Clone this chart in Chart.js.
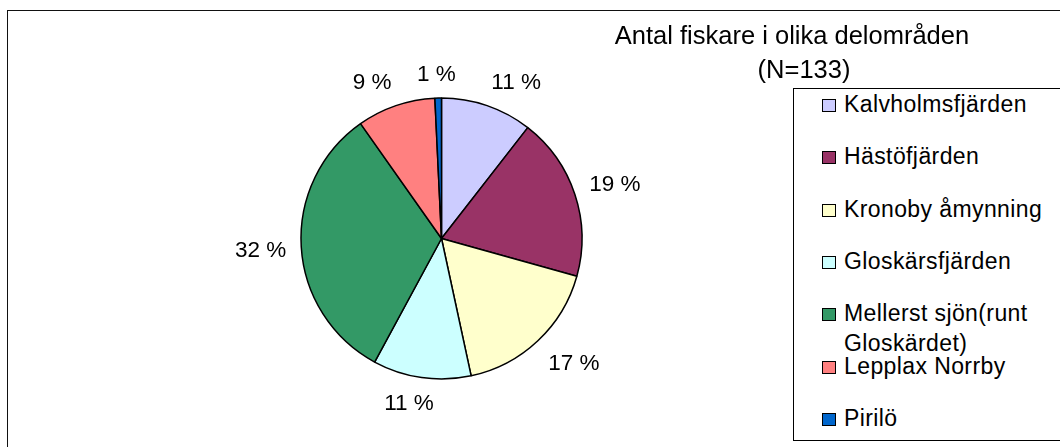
<!DOCTYPE html>
<html>
<head>
<meta charset="utf-8">
<script src="https://cdn.jsdelivr.net/npm/chart.js@4/dist/chart.umd.min.js"></script>
<style>
  body { margin: 0; background: #fff; font-family: "Liberation Sans", Arial, sans-serif; }
  #wrap { position: relative; width: 1060px; height: 447px; overflow: hidden; }
  #frame { position: absolute; left: 7px; top: 10px; width: 1100px; height: 500px; border: 1px solid #111; }
  #pie { position: absolute; left: 0; top: 0; }
  .title { position: absolute; width: 400px; text-align: center; font-size: 25.5px; line-height: 30px; color: #000; white-space: nowrap; }
  #legend { position: absolute; left: 793px; top: 88px; width: 300px; height: 353px; box-sizing: border-box; border: 1px solid #000; background: #fff; }
  .item { position: absolute; left: 28px; width: 212px; padding-left: 22px; font-size: 23px; line-height: 30px; letter-spacing: 0.4px; color: #000; }
  .box { position: absolute; left: 0; top: 10px; width: 12px; height: 11px; border: 1px solid #000; }
</style>
</head>
<body>
<div id="wrap">
  <div id="frame"></div>
  <canvas id="pie" width="1060" height="447"></canvas>
  <div class="title" style="left:592px; top:20px;">Antal fiskare i olika delområden</div>
  <div class="title" style="left:604px; top:54px;">(N=133)</div>
  <div id="legend"></div>
</div>
<script>
// antal fiskare per delområde (N=133)
const areas = ['Kalvholmsfjärden', 'Hästöfjärden', 'Kronoby åmynning', 'Gloskärsfjärden',
  'Mellerst sjön(runt Gloskärdet)', 'Lepplax Norrby', 'Pirilö'];
const counts = [14, 25, 23, 15, 43, 12, 1];
const colors = ['#CCCCFF', '#993366', '#FFFFCC', '#CCFFFF', '#339966', '#FF8080', '#0066CC'];

// legend, one slot per area
const legend = document.getElementById('legend');
areas.forEach((name, i) => {
  const item = document.createElement('div');
  item.className = 'item';
  item.style.top = (52.3 * i) + 'px';
  const box = document.createElement('span');
  box.className = 'box';
  box.style.background = colors[i];
  item.appendChild(box);
  item.appendChild(document.createTextNode(name));
  legend.appendChild(item);
});

const clamp = v => Math.max(-1, Math.min(1, v));

// percentage labels outside the slices
const pctLabels = {
  id: 'pctLabels',
  afterDatasetsDraw(chart) {
    const ctx = chart.ctx;
    const meta = chart.getDatasetMeta(0);
    const total = counts.reduce((a, b) => a + b, 0);
    ctx.save();
    ctx.font = '22.5px "Liberation Sans", Arial, sans-serif';
    ctx.fillStyle = '#000';
    ctx.textAlign = 'center';
    ctx.textBaseline = 'alphabetic';
    meta.data.forEach((arc, i) => {
      const a = (arc.startAngle + arc.endAngle) / 2;
      const dx = Math.cos(a), dy = Math.sin(a);
      const text = Math.round(counts[i] / total * 100) + ' %';
      const hw = ctx.measureText(text).width / 2;
      const r = arc.outerRadius + 15;
      const cx = arc.x + dx * r + hw * clamp(3 * dx);
      const cy = arc.y + dy * r + 10 * clamp(2 * dy);
      ctx.fillText(text, cx, cy + 8);
    });
    ctx.restore();
  }
};

new Chart(document.getElementById('pie'), {
  type: 'pie',
  data: {
    labels: areas,
    datasets: [{
      data: counts,
      backgroundColor: colors,
      borderColor: '#000',
      borderWidth: 1.5,
      radius: 140.5
    }]
  },
  options: {
    responsive: false,
    animation: false,
    devicePixelRatio: 1,
    layout: { padding: { left: 0, right: 177, top: 30, bottom: 0 } },
    plugins: {
      legend: { display: false },
      tooltip: { enabled: false }
    }
  },
  plugins: [pctLabels]
});
</script>
</body>
</html>
